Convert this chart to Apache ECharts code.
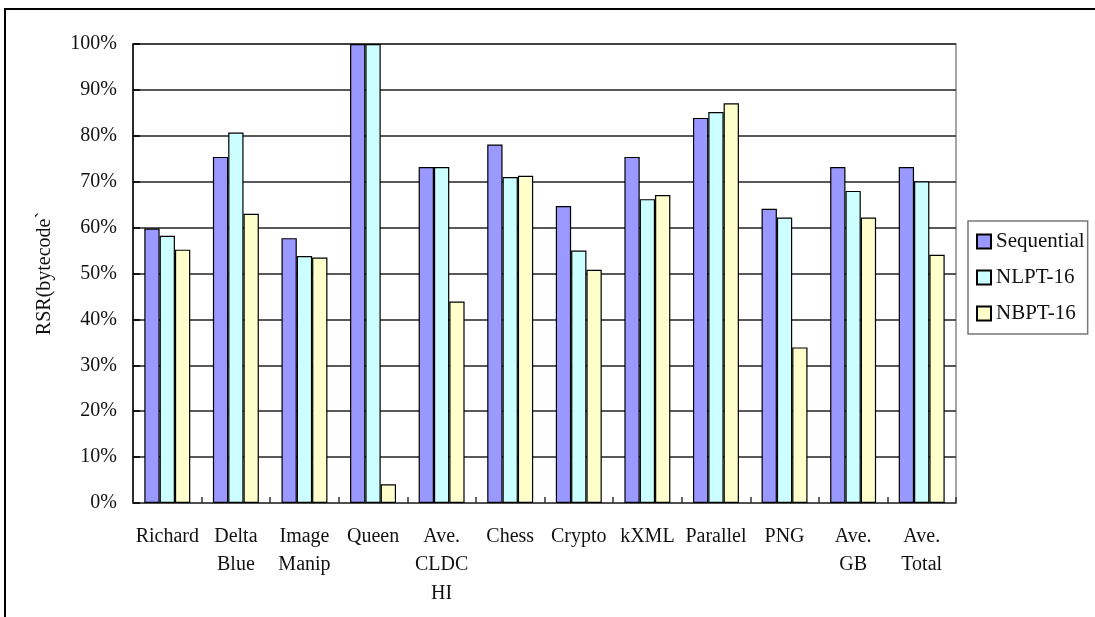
<!DOCTYPE html>
<html>
<head>
<meta charset="utf-8">
<title>RSR (bytecode)</title>
<script src="https://cdn.jsdelivr.net/npm/echarts@6/dist/echarts.min.js"></script>
<style>
  html, body { margin: 0; padding: 0; background: #fff; }
  #chart { width: 1095px; height: 617px; }
</style>
</head>
<body>
<div id="chart"></div>
<script>
// Benchmarks (multi-line names break with \n)
const categories = [
  'Richard', 'Delta\nBlue', 'Image\nManip', 'Queen', 'Ave.\nCLDC\nHI',
  'Chess', 'Crypto', 'kXML', 'Parallel', 'PNG', 'Ave.\nGB', 'Ave.\nTotal'
];

// RSR values in percent
const sequential = [59.8, 75.4, 57.7, 100, 73.2, 78.1, 64.7, 75.4, 83.9, 64.1, 73.2, 73.2];
const nlpt16     = [58.2, 80.7, 53.8, 100, 73.2, 71.0, 55.0, 66.2, 85.2, 62.2, 68.0, 70.1];
const nbpt16     = [55.2, 63.0, 53.5, 4.1, 43.9, 71.3, 50.8, 67.1, 87.1, 33.9, 62.2, 54.1];

const yTicks = [0, 10, 20, 30, 40, 50, 60, 70, 80, 90, 100];

const FONT = '"Liberation Serif", "DejaVu Serif", serif';

const chart = echarts.init(document.getElementById('chart'), null, { renderer: 'canvas' });

function barSeries(name, data, color) {
  return {
    name: name,
    type: 'bar',
    data: data,
    barGap: '0%',
    barCategoryGap: '33%',
    itemStyle: { color: color, borderColor: '#000', borderWidth: 1.2 },
    emphasis: { disabled: true },
    animation: false
  };
}

chart.setOption({
  backgroundColor: '#fff',
  animation: false,
  graphic: [{
    type: 'rect',
    shape: { x: 5, y: 9, width: 2000, height: 2000 },
    style: { fill: 'none', stroke: '#000', lineWidth: 2 },
    silent: true
  }],
  grid: {
    left: 133, right: 139, top: 44, bottom: 114,
    show: true,
    borderColor: '#888',
    borderWidth: 1.5,
    backgroundColor: 'transparent'
  },
  legend: {
    orient: 'vertical',
    left: 968, top: 221,
    padding: [10, 3, 10, 8],
    itemGap: 15,
    itemWidth: 14, itemHeight: 14,
    icon: 'rect',
    borderColor: '#777',
    borderWidth: 1.5,
    backgroundColor: '#fff',
    textStyle: { fontFamily: FONT, fontSize: 21, color: '#111' },
    selectedMode: false,
    data: ['Sequential', 'NLPT-16', 'NBPT-16']
  },
  xAxis: {
    type: 'category',
    data: categories,
    axisLine: { show: true, lineStyle: { color: '#555', width: 1.5 } },
    axisTick: { show: true, inside: true, length: 6, alignWithLabel: false, lineStyle: { color: '#333', width: 1.5 } },
    axisLabel: {
      interval: 0,
      margin: 19,
      fontFamily: FONT,
      fontSize: 20,
      lineHeight: 28.5,
      color: '#111',
      align: 'center'
    },
    splitLine: { show: false }
  },
  yAxis: {
    type: 'value',
    min: 0, max: 100, interval: 10,
    name: 'RSR(bytecode`',
    nameLocation: 'middle',
    nameGap: 78,
    nameRotate: 90,
    nameTextStyle: { fontFamily: FONT, fontSize: 20, color: '#111' },
    axisLine: { show: true, lineStyle: { color: '#000', width: 1.5 } },
    axisTick: { show: true, inside: true, length: 7, lineStyle: { color: '#000', width: 1.5 } },
    axisLabel: {
      margin: 16,
      fontFamily: FONT,
      fontSize: 20,
      color: '#111',
      formatter: function (v) { return yTicks.indexOf(v) >= 0 ? v + '%' : ''; }
    },
    splitLine: { show: true, lineStyle: { color: '#222', width: 1.5 } }
  },
  series: [
    barSeries('Sequential', sequential, '#9999FF'),
    barSeries('NLPT-16', nlpt16, '#CCFFFF'),
    barSeries('NBPT-16', nbpt16, '#FFFFCC')
  ]
});
</script>
</body>
</html>
